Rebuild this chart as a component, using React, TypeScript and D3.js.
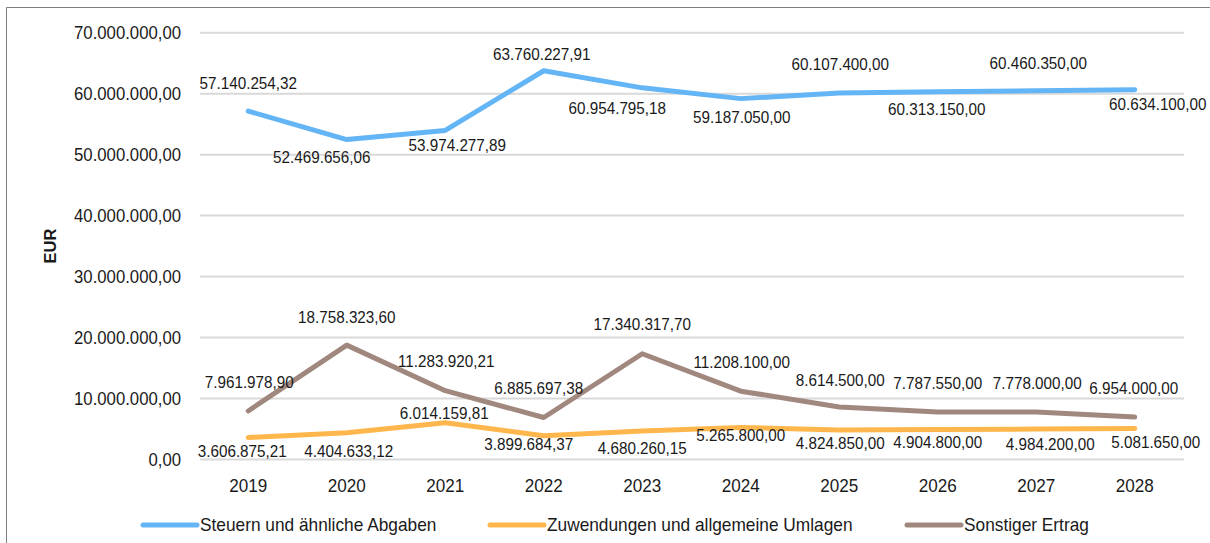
import React from "react";
import * as d3 from "d3";

// values
const years = ["2019", "2020", "2021", "2022", "2023", "2024", "2025", "2026", "2027", "2028"];
const steuern = [57140254.32, 52469656.06, 53974277.89, 63760227.91, 60954795.18, 59187050.0, 60107400.0, 60313150.0, 60460350.0, 60634100.0];
const zuwendungen = [3606875.21, 4404633.12, 6014159.81, 3899684.37, 4680260.15, 5265800.0, 4824850.0, 4904800.0, 4984200.0, 5081650.0];
const sonstiger = [7961978.9, 18758323.6, 11283920.21, 6885697.38, 17340317.7, 11208100.0, 8614500.0, 7787550.0, 7778000.0, 6954000.0];
const yTicks = [0, 10e6, 20e6, 30e6, 40e6, 50e6, 60e6, 70e6];
const seriesNames = ["Steuern und ähnliche Abgaben", "Zuwendungen und allgemeine Umlagen", "Sonstiger Ertrag"];

// label placement relative to the point (px), like the hand-placed labels in the original
const steuernLabelOffsets = [[0, -28], [-25, 18], [12, 15], [-2, -16], [-25, 20], [1, 19], [1, -29], [-1, 18], [2, -28], [23, 14]];
const zuwendungenLabelOffsets = [[-6, 14], [2, 19], [-1, -10], [-15, 9], [0, 17], [0, 8], [1, 13], [0, 13], [14, 15], [21, 14]];
const sonstigerLabelOffsets = [[1, -29], [0, -28], [1, -29], [-5, -29], [0, -29], [1, -29], [1, -27], [0, -29], [1, -29], [-1, -29]];

const colors = ["#64b5f6", "#ffb74d", "#a1887f"];

const de = d3.formatLocale({ decimal: ",", thousands: ".", grouping: [3], currency: ["", " €"] });
const fmt = de.format(",.2f");

const W = 1210;
const H = 543;
const FONT = "'Liberation Sans', Arial, sans-serif";
const SQUEEZE = 0.92; // the original font is a bit narrower than Arial

// text squeezed horizontally around its anchor point
function NText({ x, y, size, anchor = "start", children, weight = "normal" }: any) {
  return (
    <text
      transform={`translate(${x},${y}) scale(${SQUEEZE},1)`}
      textAnchor={anchor}
      dominantBaseline="central"
      fontSize={size}
      fontWeight={weight}
      fill="#1a1a1a"
    >
      {children}
    </text>
  );
}

export default function App() {
  const x = d3.scalePoint<string>().domain(years).range([199, 1184]).padding(0.5);
  const y = d3.scaleLinear().domain([0, 70e6]).range([459.5, 32.7]);

  const line = d3
    .line<number>()
    .x((d, i) => x(years[i]) as number)
    .y((d) => y(d));

  const series = [
    { name: seriesNames[0], values: steuern, offsets: steuernLabelOffsets, color: colors[0] },
    { name: seriesNames[1], values: zuwendungen, offsets: zuwendungenLabelOffsets, color: colors[1] },
    { name: seriesNames[2], values: sonstiger, offsets: sonstigerLabelOffsets, color: colors[2] },
  ];

  // legend: sample line + text, spaced like the original
  const legendX = [143, 490, 907];

  return (
    <svg
      width={W}
      height={H}
      style={{ position: "absolute", left: 0, top: 0, background: "#fff" }}
      fontFamily={FONT}
    >
      <rect x={0} y={0} width={W} height={H} fill="#fff" />
      {/* frame */}
      <path d={`M6.5,${H + 2} V7.5 H${W + 2}`} fill="none" stroke="#7f7f7f" strokeWidth={1} />

      {/* grid */}
      {yTicks.map((t) => (
        <g key={t}>
          <line x1={200} x2={1184} y1={y(t)} y2={y(t)} stroke="#d9d9d9" strokeWidth={2} />
          <NText x={181} y={y(t)} size={18.2} anchor="end">
            {fmt(t)}
          </NText>
        </g>
      ))}

      {/* x axis labels */}
      {years.map((yr) => (
        <NText key={yr} x={x(yr)} y={486} size={18.6} anchor="middle">
          {yr}
        </NText>
      ))}

      {/* y axis title */}
      <text
        transform="translate(50,246) rotate(-90)"
        textAnchor="middle"
        dominantBaseline="central"
        fontSize={16.5}
        fontWeight="bold"
        fill="#1a1a1a"
      >
        EUR
      </text>

      {/* lines */}
      {series.map((s) => (
        <path
          key={s.name}
          d={line(s.values) || ""}
          fill="none"
          stroke={s.color}
          strokeWidth={5}
          strokeLinecap="round"
          strokeLinejoin="round"
        />
      ))}

      {/* data labels */}
      {series.map((s) =>
        s.values.map((v, i) => (
          <NText
            key={s.name + i}
            x={(x(years[i]) as number) + s.offsets[i][0]}
            y={y(v) + s.offsets[i][1]}
            size={16.6}
            anchor="middle"
          >
            {fmt(v)}
          </NText>
        ))
      )}

      {/* legend */}
      {series.map((s, i) => (
        <g key={"lg" + s.name}>
          <line
            x1={legendX[i]}
            x2={legendX[i] + 54}
            y1={525}
            y2={525}
            stroke={s.color}
            strokeWidth={5}
            strokeLinecap="round"
          />
          <NText x={legendX[i] + 57} y={525} size={18.8}>
            {s.name}
          </NText>
        </g>
      ))}
    </svg>
  );
}
